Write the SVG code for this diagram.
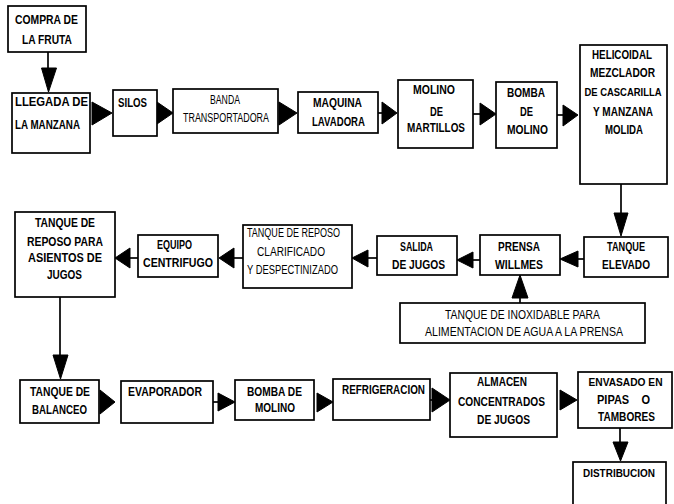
<svg xmlns="http://www.w3.org/2000/svg" width="674" height="504" viewBox="0 0 674 504">
<style>
.box{fill:#fff;stroke:#000;stroke-width:1.7}
.t{font-family:"Liberation Sans Narrow","Liberation Sans",Arial,sans-serif;font-size:13px;font-weight:bold;fill:#000;text-anchor:middle}
.n{font-weight:normal;font-size:12.5px}
.s{font-size:11.5px}
.xs{font-size:11px}
.l{text-anchor:start}
.ln{stroke:#000;stroke-width:1.7;fill:none}
.ah{fill:#000;stroke:#000;stroke-width:1}
</style>
<rect width="674" height="504" fill="#fff"/>
<g id="connectors">
<path class="ln" d="M48,52V70"/><polygon class="ah" points="41.5,68 56.5,68 48.5,92"/>
<polygon class="ah" points="92,102 92,125 112,113"/>
<polygon class="ah" points="157,102 157,124 173,113"/>
<polygon class="ah" points="279,102 279,125 297,113"/>
<path class="ln" d="M378,113H384"/><polygon class="ah" points="382,102 382,124 397,113"/>
<path class="ln" d="M473,114H482"/><polygon class="ah" points="480,103 480,125 496,114"/>
<path class="ln" d="M557,115H565"/><polygon class="ah" points="563,105 563,126 578,115"/>
<path class="ln" d="M621,184V215"/><polygon class="ah" points="614,213 628,213 621,236"/>
<path class="ln" d="M576,259H584"/><polygon class="ah" points="578,251 578,267 560,259"/>
<path class="ln" d="M471,260H480"/><polygon class="ah" points="473,252 473,268 457,260"/>
<path class="ln" d="M366,258H377"/><polygon class="ah" points="368,250 368,267 352,258"/>
<path class="ln" d="M231,258H243"/><polygon class="ah" points="234,248 234,268 219,258"/>
<path class="ln" d="M128,258H138"/><polygon class="ah" points="130,248 130,268 115,258"/>
<path class="ln" d="M520,296V303"/><polygon class="ah" points="512,298 528,298 520,275"/>
<path class="ln" d="M60,297V357"/><polygon class="ah" points="53,355 68,355 60.5,379"/>
<polygon class="ah" points="100,390 100,414 115,402"/>
<path class="ln" d="M213,402H220"/><polygon class="ah" points="218,393 218,411 235,402"/>
<polygon class="ah" points="317,393 317,412 333,402"/>
<path class="ln" d="M430,400H434"/><polygon class="ah" points="432,388 432,412 450,400"/>
<polygon class="ah" points="560,390 560,410 577,400"/>
<path class="ln" d="M620,428V444"/><polygon class="ah" points="613,442 628,442 620.5,461"/>
</g>
<g id="compra"><rect class="box" x="8" y="6" width="78" height="46"/>
<text class="t" x="46.5" y="24" textLength="63" lengthAdjust="spacingAndGlyphs">COMPRA DE</text>
<text class="t" x="47" y="44" textLength="50" lengthAdjust="spacingAndGlyphs">LA FRUTA</text></g>
<g id="llegada"><rect class="box" x="12" y="93" width="78" height="60"/>
<text class="t l" x="15" y="106" textLength="73" lengthAdjust="spacingAndGlyphs">LLEGADA DE</text>
<text class="t l" x="15" y="129" textLength="65" lengthAdjust="spacingAndGlyphs">LA MANZANA</text></g>
<g id="silos"><rect class="box" x="113" y="90" width="44" height="46"/>
<text class="t" x="132.5" y="107" textLength="29" lengthAdjust="spacingAndGlyphs">SILOS</text></g>
<g id="banda"><rect class="box" x="173" y="89" width="105" height="44"/>
<text class="t n" x="225" y="104" textLength="30" lengthAdjust="spacingAndGlyphs">BANDA</text>
<text class="t n" x="226" y="122" textLength="86" lengthAdjust="spacingAndGlyphs">TRANSPORTADORA</text></g>
<g id="maquina"><rect class="box" x="298" y="92" width="80" height="41"/>
<text class="t" x="337.5" y="107" textLength="49" lengthAdjust="spacingAndGlyphs">MAQUINA</text>
<text class="t" x="338.5" y="126" textLength="53" lengthAdjust="spacingAndGlyphs">LAVADORA</text></g>
<g id="molino"><rect class="box" x="398" y="80" width="75" height="68"/>
<text class="t" x="434" y="94" textLength="42" lengthAdjust="spacingAndGlyphs">MOLINO</text>
<text class="t" x="436.5" y="116" textLength="13" lengthAdjust="spacingAndGlyphs">DE</text>
<text class="t" x="436" y="132" textLength="58" lengthAdjust="spacingAndGlyphs">MARTILLOS</text></g>
<g id="bomba1"><rect class="box" x="496" y="82" width="61" height="66"/>
<text class="t" x="526" y="97" textLength="38" lengthAdjust="spacingAndGlyphs">BOMBA</text>
<text class="t" x="526.5" y="116" textLength="13" lengthAdjust="spacingAndGlyphs">DE</text>
<text class="t" x="527.5" y="134" textLength="41" lengthAdjust="spacingAndGlyphs">MOLINO</text></g>
<g id="helicoidal"><rect class="box" x="580" y="45" width="87" height="139"/>
<text class="t" x="622" y="59" textLength="60" lengthAdjust="spacingAndGlyphs">HELICOIDAL</text>
<text class="t" x="622.5" y="77" textLength="65" lengthAdjust="spacingAndGlyphs">MEZCLADOR</text>
<text class="t xs" x="623" y="96" textLength="77" lengthAdjust="spacingAndGlyphs">DE CASCARILLA</text>
<text class="t" x="623" y="116" textLength="60" lengthAdjust="spacingAndGlyphs">Y MANZANA</text>
<text class="t" x="624" y="134" textLength="38" lengthAdjust="spacingAndGlyphs">MOLIDA</text></g>
<g id="elevado"><rect class="box" x="584" y="237" width="84" height="40"/>
<text class="t" x="626" y="251" textLength="38" lengthAdjust="spacingAndGlyphs">TANQUE</text>
<text class="t" x="626" y="269" textLength="48" lengthAdjust="spacingAndGlyphs">ELEVADO</text></g>
<g id="prensa"><rect class="box" x="480" y="235" width="80" height="40"/>
<text class="t" x="519" y="251" textLength="42" lengthAdjust="spacingAndGlyphs">PRENSA</text>
<text class="t" x="519" y="269" textLength="48" lengthAdjust="spacingAndGlyphs">WILLMES</text></g>
<g id="salida"><rect class="box" x="377" y="236" width="80" height="39"/>
<text class="t" x="416.5" y="251" textLength="33" lengthAdjust="spacingAndGlyphs">SALIDA</text>
<text class="t" x="418.5" y="269" textLength="53" lengthAdjust="spacingAndGlyphs">DE JUGOS</text></g>
<g id="inoxidable"><rect class="box" x="400" y="303" width="245" height="40"/>
<text class="t n" x="522.5" y="319" textLength="155" lengthAdjust="spacingAndGlyphs">TANQUE DE INOXIDABLE PARA</text>
<text class="t n" x="524" y="336" textLength="198" lengthAdjust="spacingAndGlyphs">ALIMENTACION DE AGUA A LA PRENSA</text></g>
<g id="clarificado"><rect class="box" x="243" y="225" width="109" height="63"/>
<text class="t n" x="293.5" y="237" textLength="93" lengthAdjust="spacingAndGlyphs">TANQUE DE REPOSO</text>
<text class="t n" x="291" y="256" textLength="68" lengthAdjust="spacingAndGlyphs">CLARIFICADO</text>
<text class="t n" x="292.5" y="274" textLength="91" lengthAdjust="spacingAndGlyphs">Y DESPECTINIZADO</text></g>
<g id="centrifugo"><rect class="box" x="138" y="235" width="80" height="42"/>
<text class="t" x="174.5" y="249" textLength="35" lengthAdjust="spacingAndGlyphs">EQUIPO</text>
<text class="t" x="178" y="267" textLength="70" lengthAdjust="spacingAndGlyphs">CENTRIFUGO</text></g>
<g id="asientos"><rect class="box" x="15" y="212" width="100" height="85"/>
<text class="t" x="65" y="227" textLength="60" lengthAdjust="spacingAndGlyphs">TANQUE DE</text>
<text class="t" x="65" y="246" textLength="76" lengthAdjust="spacingAndGlyphs">REPOSO PARA</text>
<text class="t" x="65" y="262" textLength="74" lengthAdjust="spacingAndGlyphs">ASIENTOS DE</text>
<text class="t" x="64.5" y="279" textLength="35" lengthAdjust="spacingAndGlyphs">JUGOS</text></g>
<g id="balanceo"><rect class="box" x="20" y="380" width="79" height="43"/>
<text class="t" x="60" y="396" textLength="60" lengthAdjust="spacingAndGlyphs">TANQUE DE</text>
<text class="t" x="59.5" y="414" textLength="55" lengthAdjust="spacingAndGlyphs">BALANCEO</text></g>
<g id="evaporador"><rect class="box" x="121" y="381" width="92" height="42"/>
<text class="t" x="165" y="396" textLength="74" lengthAdjust="spacingAndGlyphs">EVAPORADOR</text></g>
<g id="bomba2"><rect class="box" x="235" y="380" width="79" height="40"/>
<text class="t" x="274.5" y="396" textLength="55" lengthAdjust="spacingAndGlyphs">BOMBA DE</text>
<text class="t" x="275" y="412" textLength="40" lengthAdjust="spacingAndGlyphs">MOLINO</text></g>
<g id="refrigeracion"><rect class="box" x="333" y="379" width="97" height="41"/>
<text class="t" x="383.5" y="394" textLength="83" lengthAdjust="spacingAndGlyphs">REFRIGERACION</text></g>
<g id="almacen"><rect class="box" x="450" y="373" width="107" height="64"/>
<text class="t" x="502" y="386" textLength="50" lengthAdjust="spacingAndGlyphs">ALMACEN</text>
<text class="t" x="501.5" y="406" textLength="87" lengthAdjust="spacingAndGlyphs">CONCENTRADOS</text>
<text class="t" x="503.5" y="424" textLength="53" lengthAdjust="spacingAndGlyphs">DE JUGOS</text></g>
<g id="envasado"><rect class="box" x="578" y="372" width="94" height="56"/>
<text class="t s" x="625.5" y="386" textLength="74" lengthAdjust="spacingAndGlyphs">ENVASADO EN</text>
<text class="t" x="623.5" y="404" textLength="53" lengthAdjust="spacingAndGlyphs" xml:space="preserve">PIPAS    O</text>
<text class="t" x="626.5" y="421" textLength="57" lengthAdjust="spacingAndGlyphs">TAMBORES</text></g>
<g id="distribucion"><rect class="box" x="573" y="462" width="93" height="50"/>
<text class="t s" x="619" y="477" textLength="72" lengthAdjust="spacingAndGlyphs">DISTRIBUCION</text></g>
</svg>
